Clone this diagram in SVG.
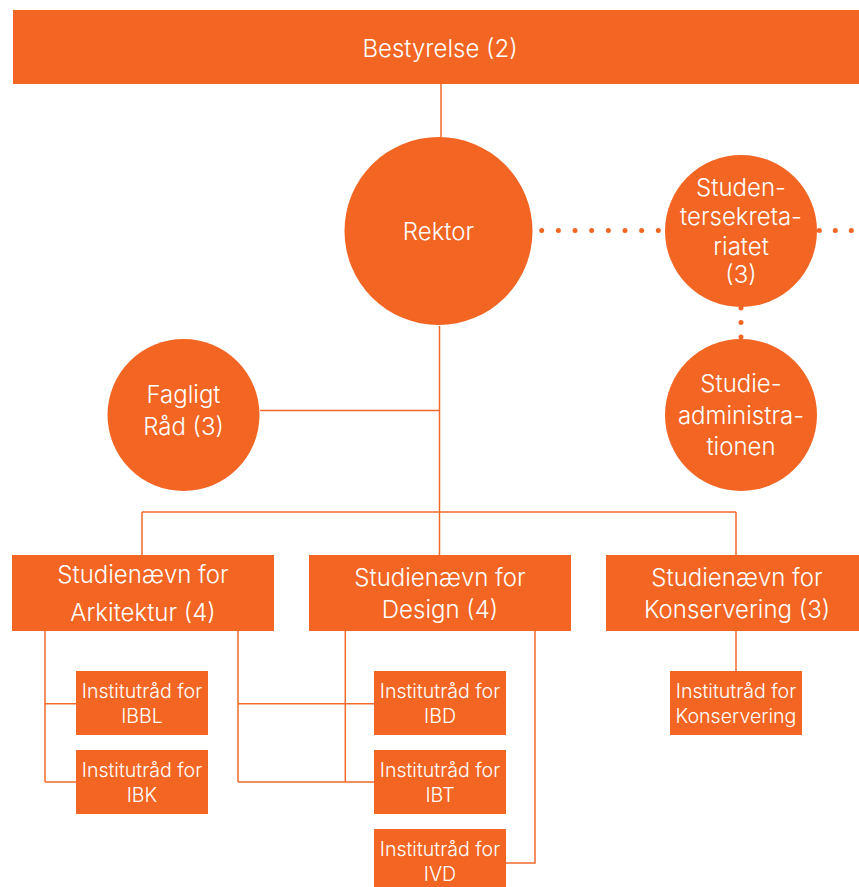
<svg xmlns="http://www.w3.org/2000/svg" width="859" height="887" viewBox="0 0 859 887">
<style>
.n{fill:#F26522}
.t{fill:#ffffff;font-family:Inter,"Liberation Sans",sans-serif;font-weight:300;text-anchor:middle}
.b{font-size:24px}
.s{font-size:19.6px}
.c{fill:none;stroke:#F26A2A;stroke-width:1.5}
.d{fill:none;stroke:#F26522;stroke-width:5;stroke-linecap:round}
</style>
<rect width="859" height="887" fill="#ffffff"/>
<g id="connectors">
<path class="c" d="M441 84V140M439.5 326V512M260 410.5H439.5M142 512H736M142 512V555M439.5 512V555M736 512V555"/>
<path class="c" d="M45 630V782M45 703.7H76M45 782H76M238 630V782M238 703.7H374M238 782H374M345.3 630V782M535 630V863H506M736 630V671"/>
<path class="d" stroke-dasharray="0 16.66" d="M541.7 230.5H660"/>
<path class="d" stroke-dasharray="0 16" d="M819.3 230.5H870"/>
<path class="d" stroke-dasharray="0 14.5" d="M741 308V338"/>
</g>
<g id="bestyrelse"><rect class="n" x="13" y="10" width="846" height="74"/><text class="t b" x="440" y="57">Bestyrelse (2)</text></g>
<g id="rektor"><circle class="n" cx="438.5" cy="231" r="94"/><text class="t b" x="438.5" y="239.5">Rektor</text></g>
<g id="studentersekretariatet"><circle class="n" cx="741" cy="231" r="76"/><text class="t b" x="741"><tspan x="741" y="196">Studen-</tspan><tspan x="741" y="225">tersekreta-</tspan><tspan x="741" y="254.5">riatet</tspan><tspan x="741" y="283">(3)</tspan></text></g>
<g id="studieadministrationen"><circle class="n" cx="741" cy="415" r="76"/><text class="t b" x="741"><tspan x="741" y="392">Studie-</tspan><tspan x="741" y="424">administra-</tspan><tspan x="741" y="455">tionen</tspan></text></g>
<g id="fagligt"><circle class="n" cx="183.5" cy="415" r="76"/><text class="t b" x="183.5"><tspan x="183.5" y="403">Fagligt</tspan><tspan x="183.5" y="435">Råd (3)</tspan></text></g>
<g id="sn-arkitektur"><rect class="n" x="12" y="555" width="262" height="76"/><text class="t b" x="143"><tspan x="143" y="583">Studienævn for</tspan><tspan x="143" y="620.5">Arkitektur (4)</tspan></text></g>
<g id="sn-design"><rect class="n" x="309" y="555" width="262" height="76"/><text class="t b" x="440"><tspan x="440" y="586">Studienævn for</tspan><tspan x="440" y="618">Design (4)</tspan></text></g>
<g id="sn-konservering"><rect class="n" x="606" y="555" width="262" height="76"/><text class="t b" x="737"><tspan x="737" y="586">Studienævn for</tspan><tspan x="737" y="618">Konservering (3)</tspan></text></g>
<g id="ir-ibbl"><rect class="n" x="76" y="671" width="132" height="64"/><text class="t s" x="142"><tspan x="142" y="698">Institutråd for</tspan><tspan x="142" y="723">IBBL</tspan></text></g>
<g id="ir-ibk"><rect class="n" x="76" y="750" width="132" height="64"/><text class="t s" x="142"><tspan x="142" y="777">Institutråd for</tspan><tspan x="142" y="802">IBK</tspan></text></g>
<g id="ir-ibd"><rect class="n" x="374" y="671" width="132" height="64"/><text class="t s" x="440"><tspan x="440" y="698">Institutråd for</tspan><tspan x="440" y="723">IBD</tspan></text></g>
<g id="ir-ibt"><rect class="n" x="374" y="750" width="132" height="64"/><text class="t s" x="440"><tspan x="440" y="777">Institutråd for</tspan><tspan x="440" y="802">IBT</tspan></text></g>
<g id="ir-ivd"><rect class="n" x="374" y="829" width="132" height="64"/><text class="t s" x="440"><tspan x="440" y="856">Institutråd for</tspan><tspan x="440" y="881">IVD</tspan></text></g>
<g id="ir-konservering"><rect class="n" x="670" y="671" width="132" height="64"/><text class="t s" x="736"><tspan x="736" y="698">Institutråd for</tspan><tspan x="736" y="723">Konservering</tspan></text></g>
</svg>
